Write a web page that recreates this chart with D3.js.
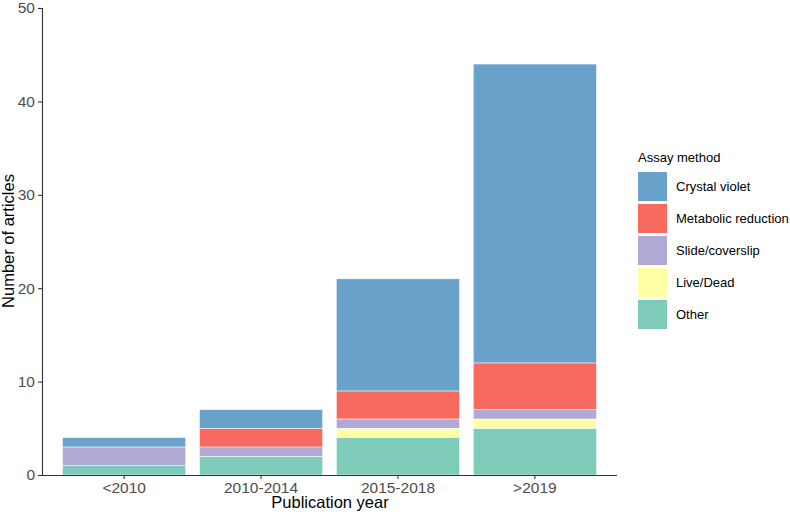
<!DOCTYPE html>
<html>
<head>
<meta charset="utf-8">
<script src="https://cdnjs.cloudflare.com/ajax/libs/d3/7.8.5/d3.min.js"></script>
<style>
  body { margin: 0; background: #fff; }
  text { font-family: Arial, "Liberation Sans", sans-serif; }
</style>
</head>
<body>
<script>
// data
const years = ["<2010", "2010-2014", "2015-2018", ">2019"];
const methods = ["Other", "Live/Dead", "Slide/coverslip", "Metabolic reduction", "Crystal violet"];
const other = [1, 2, 4, 5];
const liveDead = [0, 0, 1, 1];
const slide = [2, 1, 1, 1];
const metabolic = [0, 2, 3, 5];
const crystal = [1, 2, 12, 32];
const yTicks = [0, 10, 20, 30, 40, 50];

const colors = {
  "Crystal violet": "#6ba2cb",
  "Metabolic reduction": "#f8695f",
  "Slide/coverslip": "#b0a9d3",
  "Live/Dead": "#ffffa6",
  "Other": "#7fcbba"
};

const rows = years.map((y, i) => ({
  year: y,
  "Other": other[i],
  "Live/Dead": liveDead[i],
  "Slide/coverslip": slide[i],
  "Metabolic reduction": metabolic[i],
  "Crystal violet": crystal[i]
}));

const W = 790, H = 517;
const svg = d3.select("body").append("svg").attr("width", W).attr("height", H);

const x = d3.scaleBand().domain(years).range([42, 617]).paddingInner(0.1).paddingOuter(0.15);
const y = d3.scaleLinear().domain([0, 50]).range([475, 8]);

const stacked = d3.stack().keys(methods)(rows);

svg.append("g").selectAll("g")
  .data(stacked)
  .join("g")
  .attr("fill", d => colors[d.key])
  .selectAll("rect")
  .data(d => d.filter(p => p[1] > p[0]))
  .join("rect")
  .attr("x", d => x(d.data.year))
  .attr("width", x.bandwidth())
  .attr("y", d => y(d[1]))
  .attr("height", d => y(d[0]) - y(d[1]))
  .attr("stroke", "#fff")
  .attr("stroke-width", 0.5);

// axes
const yAxis = svg.append("g")
  .attr("transform", "translate(42,0)")
  .call(d3.axisLeft(y).tickValues(yTicks).tickSize(4).tickPadding(3));
const xAxis = svg.append("g")
  .attr("transform", "translate(0,475)")
  .call(d3.axisBottom(x).tickSize(4).tickPadding(3));

[yAxis, xAxis].forEach(a => {
  a.select(".domain").attr("stroke", "#333").attr("stroke-width", 1.1);
  a.selectAll(".tick line").attr("stroke", "#333").attr("stroke-width", 1.1);
  a.selectAll(".tick text").attr("fill", "#4d4d4d").style("font-size", "15.5px")
    .style("font-family", "Arial, 'Liberation Sans', sans-serif");
});
xAxis.select(".domain").attr("d", "M42,0.5H617");
yAxis.select(".domain").attr("d", "M0.5,8V475");

svg.append("text")
  .attr("x", 330).attr("y", 508)
  .attr("text-anchor", "middle")
  .style("font-size", "16.5px")
  .text("Publication year");

svg.append("text")
  .attr("transform", "translate(14,241) rotate(-90)")
  .attr("text-anchor", "middle")
  .style("font-size", "16.5px")
  .text("Number of articles");

// legend
const legend = svg.append("g").attr("transform", "translate(638,0)");
legend.append("text").attr("x", 0).attr("y", 162).style("font-size", "13px").text("Assay method");
const legendOrder = ["Crystal violet", "Metabolic reduction", "Slide/coverslip", "Live/Dead", "Other"];
const li = legend.selectAll("g.item").data(legendOrder).join("g")
  .attr("class", "item")
  .attr("transform", (d, i) => `translate(0,${172 + i * 32})`);
li.append("rect").attr("width", 29).attr("height", 29).attr("fill", d => colors[d]);
li.append("text").attr("x", 38).attr("y", 19).style("font-size", "13px").text(d => d);
</script>
</body>
</html>
